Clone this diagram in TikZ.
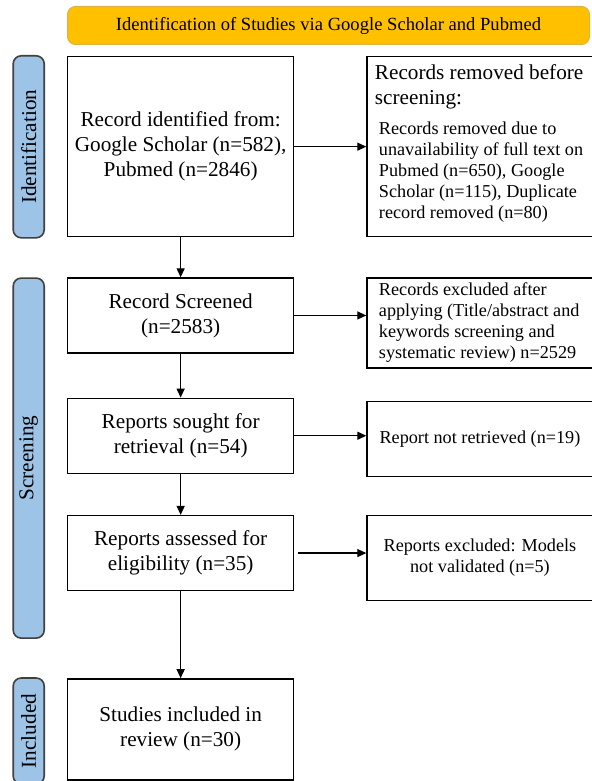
\documentclass[tikz,border=0pt]{standalone}
\usepackage{fontspec}
\setmainfont{Liberation Serif}
\usetikzlibrary{arrows.meta, positioning}
\definecolor{bannergold}{RGB}{255,192,0}
\definecolor{bannerline}{RGB}{222,178,70}
\definecolor{phaseblue}{RGB}{157,195,230}
\definecolor{phaseline}{RGB}{64,64,64}
\newcommand{\bigtxt}{\fontsize{10.6}{12.5}\selectfont}
\newcommand{\smalltxt}{\fontsize{9.1}{10.5}\selectfont}
% left-aligned block of given inset
\newcommand{\leftblock}[2]{\parbox{113pt}{\raggedright\leftskip=#1 #2\par}}

\begin{document}
\begin{tikzpicture}[
  flowbox/.style={rectangle, draw=black, line width=0.65pt, minimum width=113pt,
                  inner sep=2pt, font=\bigtxt, align=center},
  sidebox/.style={flowbox, font=\smalltxt},
  listbox/.style={rectangle, draw=black, line width=0.65pt, minimum width=113pt,
                  inner xsep=0pt, inner ysep=2pt, font=\smalltxt},
  phase/.style={rectangle, rounded corners=4pt, draw=phaseline, line width=0.8pt,
                fill=phaseblue, minimum height=15.5pt, inner sep=1pt, font=\bigtxt,
                rotate=90, anchor=south east},
  banner/.style={rectangle, rounded corners=4pt, draw=bannerline, line width=0.5pt,
                 fill=bannergold, minimum width=261pt, minimum height=19pt,
                 font=\fontsize{9.3}{11}\selectfont, anchor=south west},
  arrow/.style={-{Triangle[length=4.5pt, width=4pt]}, line width=0.65pt}
]
\useasboundingbox (0,0) rectangle (296pt,-390.5pt);

% main column
\node[flowbox, minimum height=90pt, anchor=north west] (ident) at (33.5pt,-28pt)
  {Record identified from:\\ Google Scholar (n=582),\\ Pubmed (n=2846)};
\node[flowbox, minimum height=37.5pt, below=20pt of ident] (screen)
  {Record Screened\\ (n=2583)};
\node[flowbox, minimum height=37.5pt, below=22pt of screen] (sought)
  {Reports sought for\\ retrieval (n=54)};
\node[flowbox, minimum height=37.5pt, below=20.5pt of sought] (assess)
  {Reports assessed for\\ eligibility (n=35)};
\node[flowbox, minimum height=50.5pt, below=43.5pt of assess] (incl)
  {Studies included in\\ review (n=30)};

% right column
\node[listbox, minimum height=90pt, right=36pt of ident] (removed)
  {\parbox{113pt}{\raggedright
     {\bigtxt\leftskip=4pt Records removed before\\ screening:\par}
     \vspace{4.5pt}
     {\smalltxt\leftskip=6pt Records removed due to\\ unavailability of full text on\\
      Pubmed (n=650), Google\\ Scholar (n=115), Duplicate\\ record removed (n=80)\par}
     \vspace{3pt}}};
\node[listbox, minimum height=45pt, anchor=north west]
  (excl) at ([xshift=36pt]screen.north east)
  {\leftblock{6pt}{Records excluded after\\ applying (Title/abstract and\\
   keywords screening and\\ systematic review) n=2529}};
\node[sidebox, minimum height=37.5pt, anchor=north west]
  (notret) at ([xshift=36pt, yshift=-1.5pt]sought.north east)
  {Report not retrieved (n=19)};
\node[sidebox, minimum height=42.5pt, anchor=north west]
  (models) at ([xshift=36pt]assess.north east)
  {Reports excluded: Models\\ not validated (n=5)};

% banner and phases
\node[banner] (title) at ([yshift=5.5pt]ident.north west)
  {Identification of Studies via Google Scholar and Pubmed};
\node[phase, minimum width=91pt] (phid) at ([xshift=-11pt, yshift=0.5pt]ident.north west)
  {Identification};
\node[phase, minimum width=180pt] (phscr) at ([xshift=-11pt]screen.north west)
  {Screening};
\node[phase, minimum width=53pt] (phinc) at ([xshift=-11pt, yshift=0.5pt]incl.north west)
  {Included};

% arrows
\draw[arrow] (ident)  -- (ident.east -| removed.west);
\draw[arrow] (screen) -- (screen.east -| excl.west);
\draw[arrow] (sought) -- (sought.east -| notret.west);
\draw[arrow] ([xshift=2pt]assess.east) -- (assess.east -| models.west);
\draw[arrow] (ident)  -- (screen);
\draw[arrow] (screen) -- (sought);
\draw[arrow] (sought) -- (assess);
\draw[arrow] (assess) -- (incl);
\end{tikzpicture}
\end{document}
